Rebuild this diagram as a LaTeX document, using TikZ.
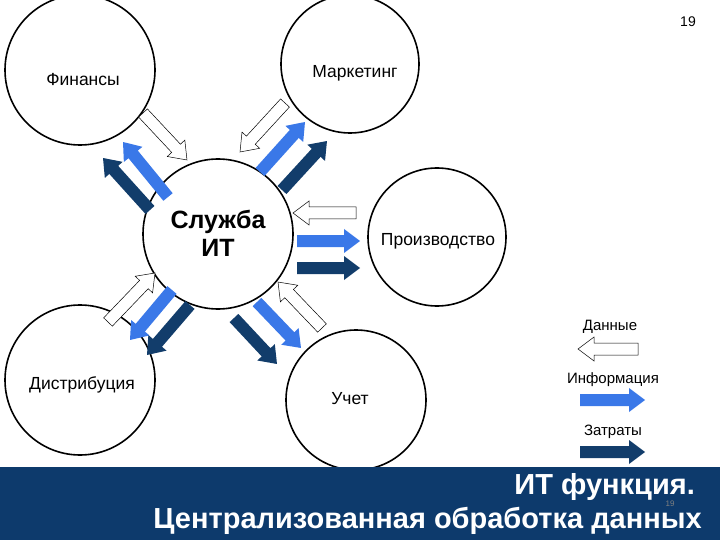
\documentclass[tikz,border=0pt]{standalone}
\usepackage{fontspec}
\setmainfont{Liberation Sans}
\definecolor{infoblue}{HTML}{3A78E8}
\definecolor{costblue}{HTML}{123D6B}
\definecolor{band}{HTML}{0D3A6C}
\tikzset{
  unit/.style={draw=black, line width=1.6pt, circle, fill=white},
  lbl/.style={font=\fontsize{17.5}{20}\selectfont, inner sep=0},
  leg/.style={font=\fontsize{15}{17}\selectfont, inner sep=0},
  dataarr/.style={draw=black, line width=0.5pt, fill=white},
  infoarr/.style={draw=none, fill=infoblue},
  costarr/.style={draw=none, fill=costblue},
}
\newcommand{\barrow}[6]{%
  \pgfmathsetmacro{\aang}{atan2(-(#6-#4),(#5-#3))}%
  \pgfmathsetmacro{\alen}{veclen(#5-#3,#6-#4)}%
  \begin{scope}[shift={(#3,#4)}, rotate=\aang]
  \path[#2] (0,-6) -- ({\alen-16},-6) -- ({\alen-16},-12) -- (\alen,0) -- ({\alen-16},12) -- ({\alen-16},6) -- (0,6) -- cycle;
  \end{scope}}
\begin{document}
\begin{tikzpicture}[x=1pt,y=-1pt]
\useasboundingbox (0,0) rectangle (720,540);
\fill[white] (0,0) rectangle (720,540);
\node[unit, minimum size=150pt] (fin) at (80,70) {};
\node[unit, minimum size=138pt] (mkt) at (350,64) {};
\node[unit, minimum size=138pt] (prod) at (437,237) {};
\node[unit, minimum size=150pt] (dist) at (80,380) {};
\node[unit, minimum size=140pt] (acc) at (356,400) {};
\node[unit, minimum size=150pt] (it) at (218,234) {};
\node[lbl] (finl) at (83,80) {Финансы};
\node[lbl] (mktl) at (355,73) {Маркетинг};
\node[lbl] (prodl) at (438,241) {Производство};
\node[lbl] (distl) at (82,385) {Дистрибуция};
\node[lbl] (accl) at (350,399) {Учет};
\node[font=\bfseries\fontsize{25}{28}\selectfont, align=center, inner sep=0] (itl) at (218,233) {Служба\\ИТ};
\barrow{a1}{dataarr}{143}{113}{187}{160}
\barrow{a2}{infoarr}{168}{197}{123}{142}
\barrow{a3}{costarr}{150}{210}{103}{158}
\barrow{a4}{dataarr}{285}{103}{240}{152}
\barrow{a5}{infoarr}{260}{172}{305}{122}
\barrow{a6}{costarr}{282}{190}{327}{141}
\barrow{a7}{dataarr}{356}{213}{293}{213}
\barrow{a8}{infoarr}{297}{241}{360}{241}
\barrow{a9}{costarr}{297}{268}{360}{268}
\barrow{b1}{dataarr}{108}{322}{155}{273}
\barrow{b2}{infoarr}{172}{290}{130}{340}
\barrow{b3}{costarr}{190}{305}{147}{355}
\barrow{b4}{dataarr}{322}{328}{278}{282}
\barrow{b5}{infoarr}{257}{302}{301}{348}
\barrow{b6}{costarr}{234}{318}{277}{364}
\node[leg] (ld) at (610,327) {Данные};
\barrow{l1}{dataarr}{638}{349}{578}{349}
\node[leg] (li) at (613,380) {Информация};
\barrow{l2}{infoarr}{580}{400}{645}{400}
\node[leg] (lz) at (613,432) {Затраты};
\barrow{l3}{costarr}{580}{452}{645}{452}
\fill[band] (0,467) rectangle (720,540);
\node[font=\fontsize{14}{16}\selectfont] (pg) at (688,22) {19};
\node[anchor=east, text=white, font=\bfseries\fontsize{29}{32}\selectfont, inner sep=0] (t1) at (695,487) {ИТ функция.};
\node[anchor=east, text=white, font=\bfseries\fontsize{29}{32}\selectfont, inner sep=0] (t2) at (702,521) {Централизованная обработка данных};
\node[font=\fontsize{8}{10}\selectfont, text=gray, inner sep=0] (pg2) at (670,504) {19};
\end{tikzpicture}
\end{document}
